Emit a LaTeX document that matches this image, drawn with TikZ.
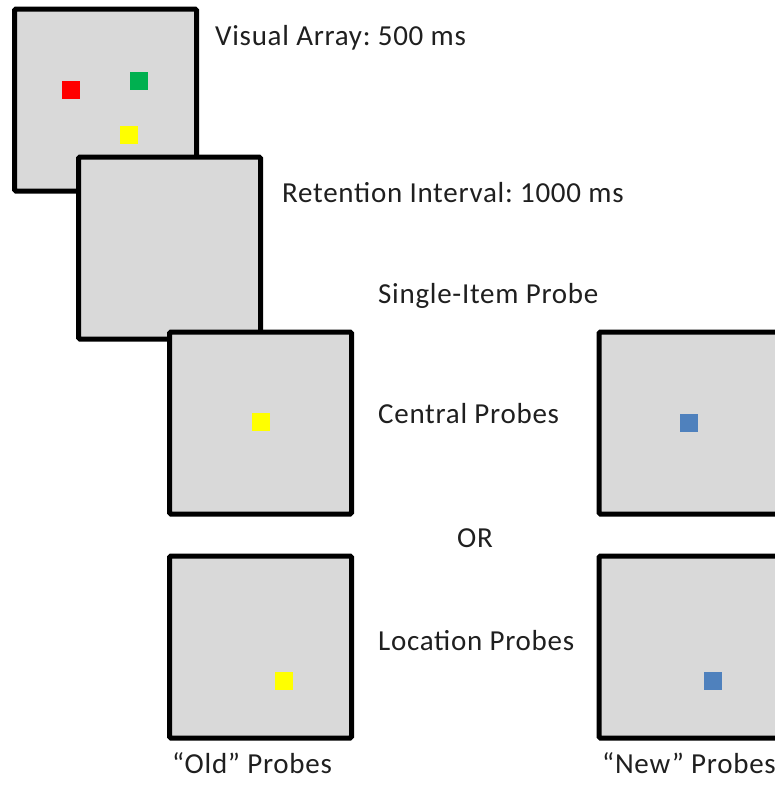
\documentclass[tikz,border=0pt]{standalone}
\usepackage{fontspec}
\setmainfont{Carlito}[LetterSpace=2.5]
\frenchspacing
\begin{document}
\begin{tikzpicture}[x=1pt,y=-1pt,
  screen/.style={draw=black,fill=panelgray,line width=5pt,rounded corners=1.5pt,
    minimum width=182pt,minimum height=182pt,inner sep=0pt,outer sep=0pt},
  stim/.style={inner sep=0pt,outer sep=0pt,minimum size=18pt},
  caption/.style={anchor=base west,inner sep=0pt,text=black!88,font=\fontsize{29}{33}\selectfont}]
\definecolor{panelgray}{HTML}{D9D9D9}
\definecolor{stimred}{HTML}{FF0000}
\definecolor{stimgreen}{HTML}{00B050}
\definecolor{stimyellow}{HTML}{FFFF00}
\definecolor{stimblue}{HTML}{4F81BD}
\useasboundingbox (0,0) rectangle (775,787);
\clip (0,0) rectangle (775,787);

% sample array, then blank retention screen
\node[screen] (array) at (105.5,100) {};
\node[stim,fill=stimred] (sqred) at (71,89.5) {};
\node[stim,fill=stimgreen] (sqgreen) at (138.5,81) {};
\node[stim,fill=stimyellow] (sqyellow) at (129,134.5) {};
\node[screen] (retention) at (169.5,248) {};

% central probes
\node[screen] (centralold) at (260.5,423) {};
\node[stim,fill=stimyellow] (cold) at (260.5,422) {};
\node[screen] (centralnew) at (690,423) {};
\node[stim,fill=stimblue] (cnew) at (689,423) {};

% location probes
\node[screen] (locold) at (260.5,647) {};
\node[stim,fill=stimyellow] (lold) at (284,681) {};
\node[screen] (locnew) at (690,647) {};
\node[stim,fill=stimblue] (lnew) at (713,681) {};

% labels
\node[caption] (tarray) at (215,45) {Visual Array: 500 ms};
\node[caption] (tret) at (282,202) {Retention Interval: 1000 ms};
\node[caption] (tsingle) at (378,303) {Single-Item Probe};
\node[caption] (tcentral) at (378,423) {Central Probes};
\node[caption] (tor) at (457,547) {OR};
\node[caption] (tloc) at (378,650) {Location Probes};
\node[caption] (told) at (172,773) {“Old” Probes};
\node[caption] (tnew) at (602,773) {“New” Probes};
\end{tikzpicture}
\end{document}
